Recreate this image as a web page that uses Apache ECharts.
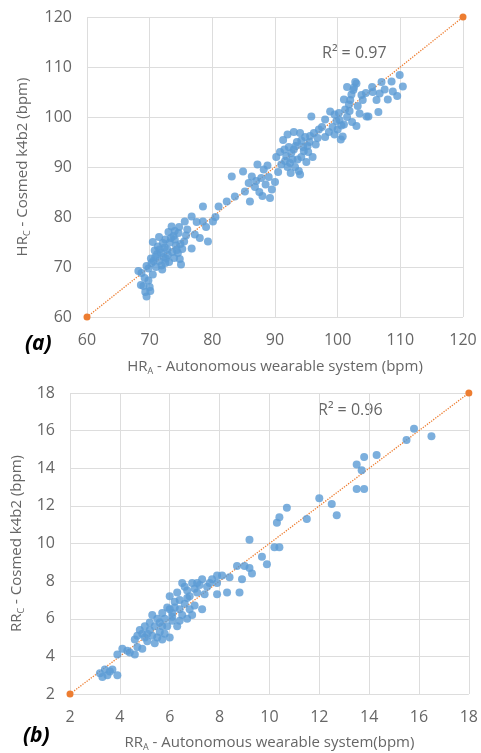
<!DOCTYPE html>
<html><head><meta charset="utf-8">
<script src="https://cdn.jsdelivr.net/npm/echarts@6/dist/echarts.min.js"></script>
<style>html,body{margin:0;padding:0;background:#fff}#c{width:481px;height:753px}</style>
</head><body><div id="c"></div>
<script>
// Panel (a): heart rate, autonomous (x) vs Cosmed (y)
const hrTicks = [60, 70, 80, 90, 100, 110, 120];
const hrPoints = [
 [69.5,64.1],[69.3,65.0],[69.0,66.2],[70.0,66.0],[68.6,66.4],[69.8,67.3],[68.7,68.8],[69.8,69.7],[68.2,69.2],[70.5,68.5],[69.5,70.2],[70.3,70.8],[69.2,67.8],[70.1,65.2],
 [70.2,71.7],[70.9,72.0],[71.5,71.2],[71.9,70.3],[72.5,70.8],[70.8,73.3],[71.3,74.1],[71.8,72.8],[72.4,73.9],[72.9,72.4],[73.1,71.0],[73.6,73.0],[73.2,74.9],[72.5,75.5],[73.8,76.2],[74.2,74.3],[74.5,72.8],[74.8,71.6],[75.2,73.6],[75.5,75.1],[74.0,77.2],[73.5,78.1],[74.6,76.8],[75.6,79.1],[76.0,77.5],[75.0,70.5],[72.0,69.5],[71.0,70.0],[73.0,77.0],[71.5,76.0],[70.5,75.0],
 [71.2,72.6],[72.2,72.0],[72.8,73.5],[73.4,75.8],[74.0,75.5],[74.9,74.6],[73.9,71.8],[72.6,71.7],[71.6,73.5],[70.6,71.2],[72.1,74.8],[74.3,73.4],[75.8,76.3],[74.7,78.0],
 [76.7,80.1],[76.7,73.7],[78.0,75.8],[79.3,75.1],[78.5,79.1],[80.1,79.1],[78.5,82.1],[81.0,82.1],[77.2,76.5],[79.0,78.0],[80.5,80.0],[77.5,79.0],
 [82.3,83.1],[83.6,84.1],[85.2,85.1],[86.0,83.1],[83.1,88.1],[84.9,89.1],[86.3,88.1],[87.0,87.2],[87.5,85.0],[88.0,84.2],[86.8,86.0],[88.5,86.5],[89.0,88.0],[88.2,89.5],[87.2,90.5],[89.5,85.5],[90.0,87.0],[89.2,83.8],[85.8,86.8],[87.8,87.8],[88.8,90.3],
 [90.5,89.0],[91.0,90.5],[90.2,92.0],[91.3,95.4],[91.8,92.2],[92.0,90.0],[92.5,88.8],[92.8,91.5],[93.0,93.5],[93.5,95.0],[93.2,90.0],[93.8,89.2],[94.2,92.0],[94.5,94.0],[94.8,96.0],[95.0,91.0],[95.3,93.0],[95.5,95.0],[95.8,100.1],[96.2,96.8],[96.5,94.5],[94.0,96.8],[92.2,94.0],[91.5,93.5],[90.8,93.0],[96.0,92.0],[93.0,97.0],[94.0,88.5],[92.0,96.5],
 [91.6,91.2],[92.6,92.8],[93.6,91.5],[94.6,93.2],[95.2,94.2],[93.3,94.2],[94.2,95.3],[92.4,90.8],[95.6,96.2],[96.8,95.8],
 [98.8,101.1],[100.3,99.4],[98.6,97.0],[100.8,96.1],[102.0,103.4],[103.0,106.7],[102.5,105.4],[103.5,100.7],[97.5,98.0],[98.0,99.5],[99.2,98.0],[99.5,100.5],[100.0,97.5],[101.0,98.5],[101.5,100.0],[101.2,101.5],[101.8,102.5],[102.2,104.5],[102.8,107.0],[101.5,106.0],[102.3,99.0],[103.0,98.2],[99.5,96.5],[100.5,95.5],[98.0,96.0],[97.0,97.5],[101.0,103.5],[103.2,102.2],
 [100.6,98.3],[99.8,99.2],[101.9,101.2],[102.6,105.9],[100.2,100.8],
 [104.9,100.1],[106.5,101.0],[109.9,108.4],[108.6,107.1],[110.4,106.1],[108.8,105.1],[106.7,104.7],[105.6,105.0],[106.2,103.4],[104.6,100.1],[104.0,103.4],[103.8,104.4],[107.5,105.5],[109.5,104.2],[107.0,107.0],[105.5,106.0],[104.5,104.8],[108.0,103.5]
];
const hrIdentity = [[60, 60], [120, 120]];
const hrR2 = 'R² = 0.97';

// Panel (b): respiratory rate
const rrTicks = [2, 4, 6, 8, 10, 12, 14, 16, 18];
const rrPoints = [
 [3.2,3.1],[3.4,3.3],[3.5,3.0],[3.7,3.3],[3.9,3.0],[3.3,2.9],[3.6,3.2],
 [3.9,4.1],[4.1,4.4],[4.4,4.2],[4.7,4.5],[4.9,4.4],[4.3,4.3],[4.6,4.1],
 [4.8,5.4],[5.0,5.0],[5.2,5.4],[5.5,5.0],[5.4,4.7],[4.9,5.2],[5.1,4.8],[5.6,5.3],[5.3,5.1],[4.7,5.1],[5.8,5.2],[6.0,5.0],[5.7,4.9],
 [5.0,5.6],[5.4,5.6],[5.6,5.8],[5.8,6.0],[5.9,6.6],[6.2,6.9],[6.3,7.4],[6.7,7.1],[6.8,6.5],[7.0,7.6],[7.6,7.9],[7.7,8.1],[6.4,6.5],[6.1,6.1],[5.7,5.6],[5.1,5.2],[4.6,4.9],
 [5.3,6.2],[5.7,6.3],[5.9,5.6],[6.1,6.3],[6.0,7.2],[6.4,7.0],[6.4,5.9],[6.7,7.5],[6.9,7.9],[7.3,8.1],[7.5,7.7],[7.3,6.5],[7.0,6.7],[7.9,7.9],[7.9,7.3],[6.2,6.6],[6.5,6.2],[6.6,6.8],[6.8,7.2],[7.1,7.4],[7.2,7.8],[6.3,5.6],[6.1,5.9],[5.5,6.0],[5.2,5.8],[6.9,6.2],[7.1,7.9],[6.6,7.7],[6.5,7.9],[7.4,7.3],[6.7,6.0],[6.0,6.5],
 [7.9,8.3],[8.1,8.3],[8.3,7.4],[8.8,7.4],[8.7,8.8],[8.4,8.2],[8.9,8.1],[9.2,8.7],[9.3,8.4],[9.9,8.9],[9.0,8.8],[9.2,10.2],[9.7,9.3],[10.2,9.8],[10.4,9.8],[10.3,11.1],[10.4,11.4],[10.7,11.9],[11.5,11.3],[12.0,12.4],[12.5,12.1],[12.7,11.5],[13.5,12.9],[13.8,12.9],[13.5,14.2],[13.7,13.9],[13.8,14.6],[14.3,14.7],[15.5,15.5],[15.8,16.1],[16.5,15.7]
];
const rrIdentity = [[2, 2], [18, 18]];
const rrR2 = 'R² = 0.96';

const FONT = 'Open Sans';
const GRAY = '#666666';
const GRID = '#dddddd';
const BLUE = '#5B9BD5';
const ORANGE = '#ED7D31';

function axisRich() {
  return {
    a: {fontFamily: FONT, fontSize: 15, color: GRAY, lineHeight: 20, verticalAlign: 'bottom'},
    s: {fontFamily: FONT, fontSize: 9, color: GRAY, lineHeight: 20, verticalAlign: 'bottom', padding: [0, 0, -2, 0]}
  };
}
function valAxis(ticks, idx, name, gap) {
  return {
    type: 'value', gridIndex: idx,
    min: ticks[0], max: ticks[ticks.length - 1], interval: ticks[1] - ticks[0],
    axisLine: {show: false}, axisTick: {show: false},
    splitLine: {show: true, lineStyle: {color: GRID, width: 1}},
    axisLabel: {fontFamily: FONT, fontSize: 16, color: GRAY, margin: 15},
    name: name, nameLocation: 'middle', nameGap: gap,
    nameTextStyle: {rich: axisRich()}
  };
}

const chart = echarts.init(document.getElementById('c'), null, {renderer: 'canvas'});
chart.setOption({
  animation: false,
  backgroundColor: '#fff',
  grid: [
    {left: 87, top: 17, width: 376, height: 300},
    {left: 70, top: 393, width: 400, height: 301}
  ],
  xAxis: [
    valAxis(hrTicks, 0, '{a|HR}{s|A}{a| - Autonomous wearable system (bpm)}', 37),
    valAxis(rrTicks, 1, '{a|RR}{s|A}{a| - Autonomous wearable system(bpm)}', 36)
  ],
  yAxis: [
    valAxis(hrTicks, 0, '{a|HR}{s|C}{a| - Cosmed k4b2 (bpm)}', 57),
    valAxis(rrTicks, 1, '{a|RR}{s|C}{a| - Cosmed k4b2 (bpm)}', 39)
  ],
  series: [
    {type: 'line', xAxisIndex: 0, yAxisIndex: 0, data: hrIdentity, symbol: 'circle', symbolSize: 7,
     itemStyle: {color: ORANGE}, lineStyle: {color: ORANGE, type: 'dotted', width: 1.3}, z: 1},
    {type: 'scatter', xAxisIndex: 0, yAxisIndex: 0, data: hrPoints, symbolSize: 8,
     itemStyle: {color: BLUE}, z: 2},
    {type: 'line', xAxisIndex: 1, yAxisIndex: 1, data: rrIdentity, symbol: 'circle', symbolSize: 7,
     itemStyle: {color: ORANGE}, lineStyle: {color: ORANGE, type: 'dotted', width: 1.3}, z: 1},
    {type: 'scatter', xAxisIndex: 1, yAxisIndex: 1, data: rrPoints, symbolSize: 8,
     itemStyle: {color: BLUE}, z: 2}
  ],
  graphic: [
    {type: 'text', left: 322, top: 45, style: {text: hrR2, font: '16px "Open Sans"', fill: GRAY}},
    {type: 'text', left: 318, top: 402, style: {text: rrR2, font: '16px "Open Sans"', fill: GRAY}},
    {type: 'text', left: 25, top: 334, style: {text: '(a)', font: 'italic bold 21px "Open Sans"', fill: '#000'}},
    {type: 'text', left: 23, top: 726, style: {text: '(b)', font: 'italic bold 21px "Open Sans"', fill: '#000'}}
  ]
});
</script></body></html>
